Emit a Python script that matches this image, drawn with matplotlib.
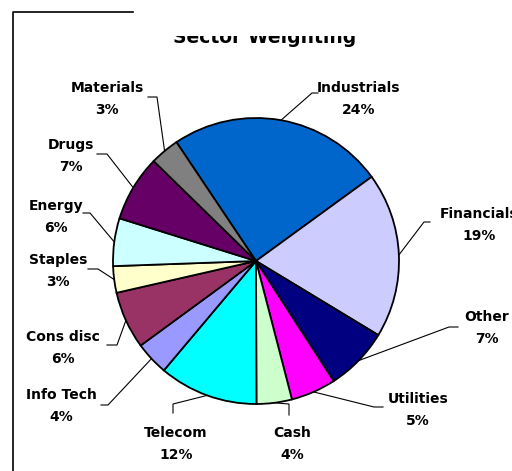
import numpy as np
import matplotlib
matplotlib.use("Agg")
import matplotlib.pyplot as plt
from matplotlib.patches import Rectangle

# sector weights (clockwise from Industrials)
sectors = ["Industrials", "Financials", "Other", "Utilities", "Cash", "Telecom",
           "Info Tech", "Cons disc", "Staples", "Energy", "Drugs", "Materials"]
weights = [24.4, 18.7, 7.2, 5.1, 4.0, 11.2, 3.8, 6.5, 3.0, 5.4, 7.5, 3.3]
pct_labels = ["24%", "19%", "7%", "5%", "4%", "12%", "4%", "6%", "3%", "6%", "7%", "3%"]
colors = ["#0066CC", "#CCCCFF", "#000080", "#FF00FF", "#CCFFCC", "#00FFFF",
          "#9999FF", "#993366", "#FFFFCC", "#CCFFFF", "#660066", "#808080"]

W, H = 512, 471
CX, CY, R = 256, 261, 143  # pie centre / radius in image pixels


def px(x, y):
    # image pixel (top-left origin) -> axes data coords
    return x, H - y


# label layout: text centre, elbow of leader line, end of stub (pixels)
text_pos = [(359, 99), (479, 225), (487, 328), (418, 410), (292, 444), (176, 444),
            (61, 406), (63, 348), (58, 271), (56, 217), (71, 156), (107, 99)]
elbows = [(312, 93), (424, 222), (449, 327), (374, 407), (289, 404), (173, 404),
          (108, 405), (117, 345), (98, 269), (90, 213), (107, 154), (157, 97)]
stubs = [(318, 93), (430, 222), (458, 327), (383, 407), (289, 415), (173, 413),
         (101, 405), (107, 345), (88, 269), (83, 213), (97, 154), (148, 97)]

fig = plt.figure(figsize=(W / 100, H / 100), dpi=100)
ax = fig.add_axes([0, 0, 1, 1])

wedges, _ = ax.pie(weights, colors=colors, startangle=123.8, counterclock=False,
                   center=px(CX, CY), radius=R,
                   wedgeprops=dict(edgecolor="black", linewidth=1.3))
ax.set_xlim(0, W)
ax.set_ylim(0, H)
ax.set_aspect("equal")
ax.axis("off")

for w, name, pct, tp, el, st in zip(wedges, sectors, pct_labels, text_pos, elbows, stubs):
    mid = np.deg2rad((w.theta1 + w.theta2) / 2)
    ex, ey = w.center[0] + R * np.cos(mid), w.center[1] + R * np.sin(mid)
    ex2, ey2 = px(*el)
    sx, sy = px(*st)
    ax.plot([ex, ex2, sx], [ey, ey2, sy], color="black", lw=0.8, solid_joinstyle="miter")
    tx, ty = px(*tp)
    ax.text(tx, ty, name + "\n" + pct, ha="center", va="center", fontsize=10,
            fontweight="bold", linespacing=1.7)

# title, cut off at the top like the source image: white band drawn over it
ax.text(*px(265, 43), "Sector Weighting", ha="center", va="baseline",
        fontsize=13.5, fontweight="bold", zorder=3)
ax.add_patch(Rectangle(px(150, 36), 260, 24, facecolor="white",
                       edgecolor="none", zorder=10))

# remains of the chart frame
ax.plot(*zip(px(133, 12), px(13, 12), px(13, H)), color="black", lw=1.2, zorder=11,
        clip_on=False)

fig.savefig("out.png", dpi=100)
